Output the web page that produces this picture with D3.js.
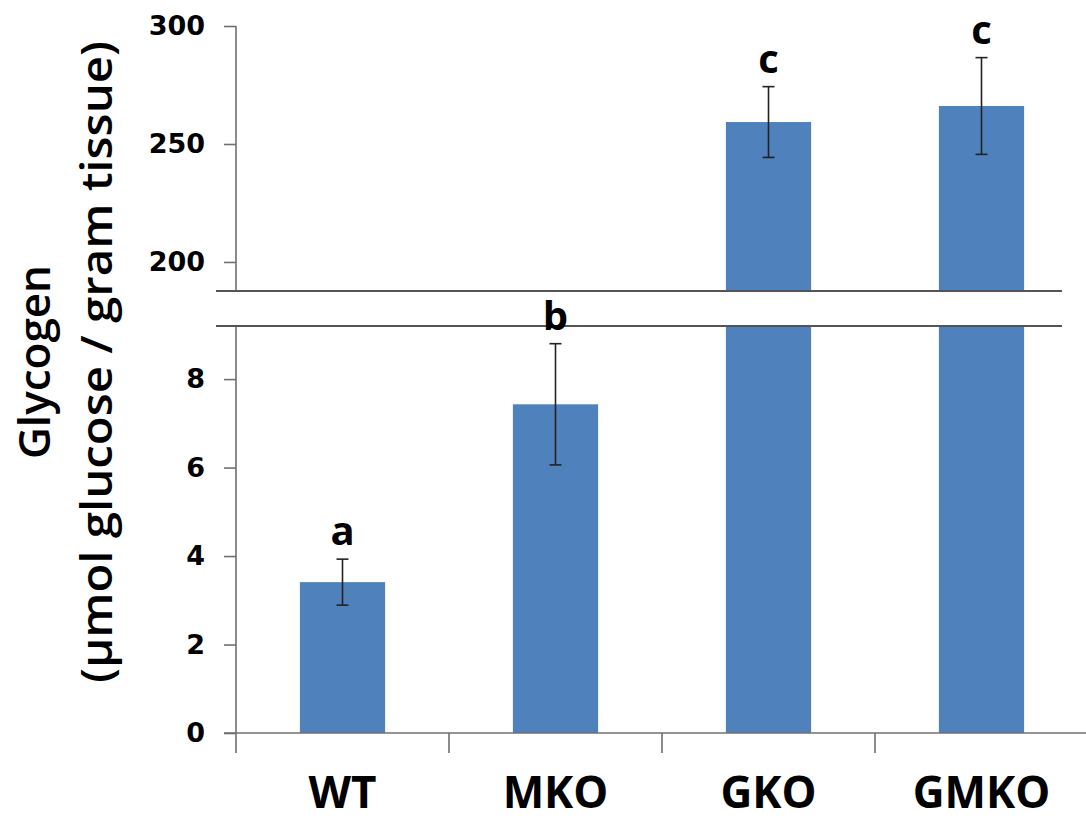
<!DOCTYPE html>
<html>
<head>
<meta charset="utf-8">
<script src="https://cdn.jsdelivr.net/npm/d3@7"></script>
<style>
  body { margin: 0; background: #fff; }
  svg { display: block; }
</style>
</head>
<body>
<div id="chart"></div>
<script>
const categories = ["WT", "MKO", "GKO", "GMKO"];
const means = [3.41, 7.43, 259.3, 266.1];
const errors = [0.52, 1.37, 15.0, 20.5];
const letters = ["a", "b", "c", "c"];
const lowerTicks = [0, 2, 4, 6, 8];
const upperTicks = [200, 250, 300];

const width = 1086, height = 821;
const axisX = 236;
const breakTop = 291, breakBottom = 326;
const lowMax = 9.2, highMin = 187.7;

const svg = d3.select("#chart").append("svg")
  .attr("width", width)
  .attr("height", height);

const x = d3.scaleBand().domain(categories).range([axisX, 1088]);
const yLow = d3.scaleLinear().domain([0, lowMax]).range([733, breakBottom]);
const yHigh = d3.scaleLinear().domain([highMin, 300]).range([breakTop, 26]);

const data = categories.map((c, i) => ({ c, m: means[i], e: errors[i], l: letters[i] }));
const barX = d => x(d.c) + x.bandwidth() * 0.3;
const barW = x.bandwidth() * 0.4;
const cx = d => x(d.c) + x.bandwidth() / 2;
const blue = "#4F81BD";

// bars, lower panel
svg.append("g").selectAll("rect").data(data).enter().append("rect")
  .attr("x", barX)
  .attr("width", barW)
  .attr("y", d => yLow(Math.min(d.m, lowMax)))
  .attr("height", d => yLow(0) - yLow(Math.min(d.m, lowMax)))
  .attr("fill", blue);

// bars, upper panel
const tall = data.filter(d => d.m > highMin);
svg.append("g").selectAll("rect").data(tall).enter().append("rect")
  .attr("x", barX)
  .attr("width", barW)
  .attr("y", d => yHigh(d.m))
  .attr("height", d => breakTop - yHigh(d.m))
  .attr("fill", blue);

// axes
const axisColor = "#707070";
const lowAxis = svg.append("g")
  .attr("transform", `translate(${axisX},0)`)
  .call(d3.axisLeft(yLow).tickValues(lowerTicks).tickSize(12).tickFormat(d3.format("d")));
const highAxis = svg.append("g")
  .attr("transform", `translate(${axisX},0)`)
  .call(d3.axisLeft(yHigh).tickValues(upperTicks).tickSize(12).tickFormat(d3.format("d")));

lowAxis.select(".domain").remove();
highAxis.select(".domain").remove();
[lowAxis, highAxis].forEach(a => {
  a.selectAll(".tick line").attr("stroke", axisColor).attr("stroke-width", 1.6);
  a.selectAll(".tick text")
    .attr("x", -31)
    .attr("fill", "#000")
    .style("font-family", "'DejaVu Sans', Verdana, sans-serif")
    .style("font-weight", "bold")
    .style("font-size", "27px");
});

svg.append("line")
  .attr("x1", axisX).attr("x2", axisX)
  .attr("y1", yHigh(300)).attr("y2", breakTop)
  .attr("stroke", axisColor).attr("stroke-width", 1.6);
svg.append("line")
  .attr("x1", axisX).attr("x2", axisX)
  .attr("y1", breakBottom).attr("y2", 753)
  .attr("stroke", axisColor).attr("stroke-width", 1.6);

// x axis
const xAxis = svg.append("g")
  .attr("transform", `translate(0,${yLow(0)})`);
xAxis.append("line")
  .attr("x1", axisX - 12).attr("x2", width)
  .attr("stroke", axisColor).attr("stroke-width", 1.6);
xAxis.selectAll(".sep").data(categories.slice(1)).enter().append("line")
  .attr("class", "sep")
  .attr("x1", d => x(d)).attr("x2", d => x(d))
  .attr("y1", 0).attr("y2", 20)
  .attr("stroke", axisColor).attr("stroke-width", 1.6);
xAxis.selectAll(".lab").data(categories).enter().append("text")
  .attr("class", "lab")
  .attr("x", d => x(d) + x.bandwidth() / 2)
  .attr("y", 75)
  .attr("text-anchor", "middle")
  .style("font-family", "'Open Sans', sans-serif")
  .style("font-weight", "bold")
  .style("font-size", "44px")
  .text(d => d);

// break lines
[breakTop, breakBottom].forEach(yy => {
  svg.append("line")
    .attr("x1", 216).attr("x2", 1062)
    .attr("y1", yy).attr("y2", yy)
    .attr("stroke", "#555").attr("stroke-width", 2);
});

// error bars
const yOf = v => v > highMin ? yHigh(v) : yLow(v);
const eb = svg.append("g").selectAll("g").data(data).enter().append("g")
  .attr("stroke", "#222").attr("stroke-width", 1.6);
eb.append("line")
  .attr("x1", cx).attr("x2", cx)
  .attr("y1", d => yOf(d.m + d.e)).attr("y2", d => yOf(d.m - d.e));
eb.append("line")
  .attr("x1", d => cx(d) - 6).attr("x2", d => cx(d) + 6)
  .attr("y1", d => yOf(d.m + d.e)).attr("y2", d => yOf(d.m + d.e));
eb.append("line")
  .attr("x1", d => cx(d) - 6).attr("x2", d => cx(d) + 6)
  .attr("y1", d => yOf(d.m - d.e)).attr("y2", d => yOf(d.m - d.e));

// significance letters
svg.append("g").selectAll("text").data(data).enter().append("text")
  .attr("x", cx)
  .attr("y", d => yOf(d.m + d.e) - 14)
  .attr("text-anchor", "middle")
  .style("font-family", "'Open Sans', sans-serif")
  .style("font-weight", "bold")
  .style("font-size", "40px")
  .text(d => d.l);

// y title
const title = svg.append("text")
  .attr("transform", "translate(0,362) rotate(-90)")
  .attr("text-anchor", "middle")
  .style("font-family", "'Open Sans', sans-serif")
  .style("font-weight", "600")
  .style("font-size", "44px");
title.append("tspan").attr("x", 0).attr("y", 50).text("Glycogen");
title.append("tspan").attr("x", 0).attr("y", 112)
  .attr("textLength", 642).attr("lengthAdjust", "spacingAndGlyphs")
  .text("(µmol glucose / gram tissue)");
</script>
</body>
</html>
